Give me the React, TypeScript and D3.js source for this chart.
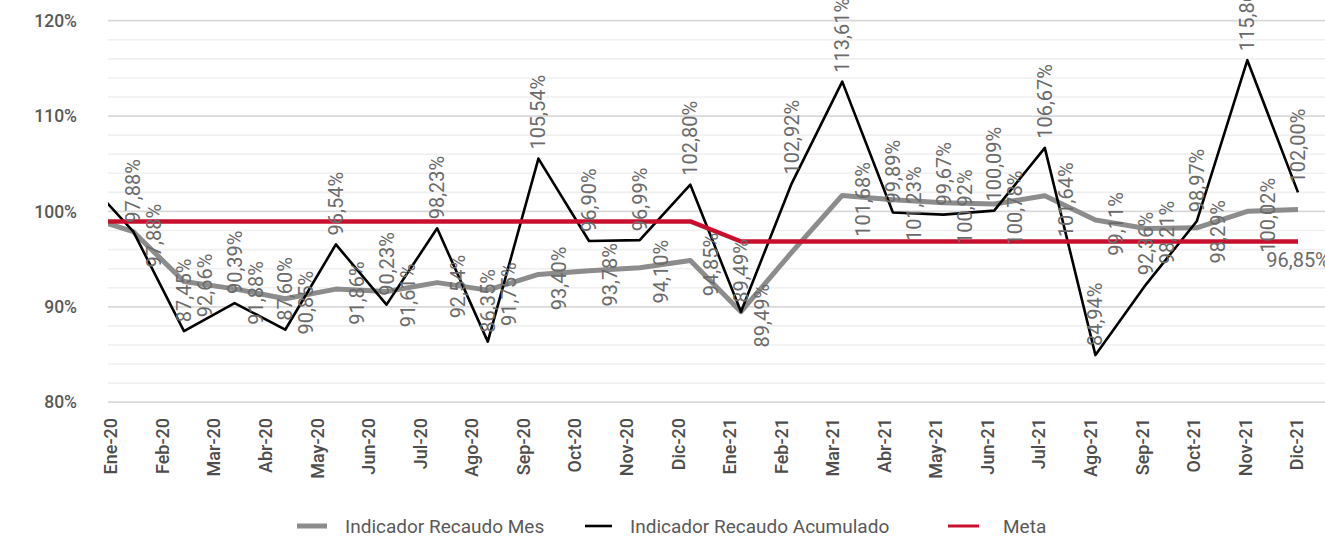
import React, { useEffect, useRef } from 'react';
import * as d3 from 'd3';

const months = [
    'Ene-20', 'Feb-20', 'Mar-20', 'Abr-20', 'May-20', 'Jun-20', 'Jul-20', 'Ago-20', 'Sep-20', 'Oct-20', 'Nov-20', 'Dic-20',
    'Ene-21', 'Feb-21', 'Mar-21', 'Abr-21', 'May-21', 'Jun-21', 'Jul-21', 'Ago-21', 'Sep-21', 'Oct-21', 'Nov-21', 'Dic-21'
];

// Dic-19: sits just left of the plot area, only its clipped segment is visible
const prevMes = 99.55;
const prevAcumulado = 103.7;
const prevMeta = 98.95;

const mes = [
    97.88, 92.66, 91.88, 90.85, 91.86, 91.61, 92.54, 91.75, 93.40, 93.78, 94.10, 94.85,
    89.49, 95.7, 101.68, 101.23, 100.92, 100.78, 101.64, 99.11, 98.21, 98.29, 100.02, 100.2
];
const acumulado = [
    97.88, 87.45, 90.39, 87.60, 96.54, 90.23, 98.23, 86.35, 105.54, 96.90, 96.99, 102.80,
    89.49, 102.92, 113.61, 99.89, 99.67, 100.09, 106.67, 84.94, 92.36, 98.97, 115.86, 102.00
];
const meta = [
    98.95, 98.95, 98.95, 98.95, 98.95, 98.95, 98.95, 98.95, 98.95, 98.95, 98.95, 98.95,
    96.85, 96.85, 96.85, 96.85, 96.85, 96.85, 96.85, 96.85, 96.85, 96.85, 96.85, 96.85
];
// months where the "Mes" series shows no data label
const mesSinEtiqueta = ['Feb-21', 'Dic-21'];

const yTicks = [80, 90, 100, 110, 120];

const App = () => {
    const svgRef = useRef<SVGSVGElement>(null);

    useEffect(() => {
        const svg = d3.select(svgRef.current);
        const height = 536;
        svg.selectAll('*').remove();

        const plot = { left: 108, right: 1325, top: 20.7, bottom: 402.2 };
        const font = 'Roboto, "DejaVu Sans", sans-serif';
        const textColor = '#595959';
        const labelColor = '#6b6b6b';

        const locale = d3.formatLocale({ decimal: ',', thousands: '.', grouping: [3], currency: ['$', ''] });
        const pct = (v: number) => locale.format('.2f')(v) + '%';

        const y = d3.scaleLinear().domain([80, 120]).range([plot.bottom, plot.top]);

        // lines: last point sits at 1298, first half step clipped at plot left
        const xLine = d3.scaleLinear().domain([-0.5, 23]).range([plot.left, 1298]);
        // category labels are spaced slightly differently
        const xLabel = d3.scalePoint().domain(months).range([111, 1297]);

        // grid (minor every 2%, major every 10%)
        const grid = svg.append('g');
        d3.range(80, 120.01, 2).forEach(v => {
            const major = Math.round(v) % 10 === 0;
            grid.append('line')
                .attr('x1', plot.left)
                .attr('x2', plot.right)
                .attr('y1', y(v))
                .attr('y2', y(v))
                .attr('stroke', major ? '#d9d9d9' : '#f0f0f0')
                .attr('stroke-width', major ? 1.8 : 1.6);
        });

        // y axis labels
        svg.append('g')
            .selectAll('text')
            .data(yTicks)
            .join('text')
            .attr('x', 77)
            .attr('y', d => y(d))
            .attr('dy', '0.35em')
            .attr('text-anchor', 'end')
            .attr('font-family', font)
            .attr('font-size', 17.5)
            .attr('font-weight', 500)
            .attr('fill', textColor)
            .text(d => d + '%');

        // x axis labels
        svg.append('g')
            .selectAll('text')
            .data(months)
            .join('text')
            .attr('transform', d => `translate(${xLabel(d)}, 418) rotate(-90)`)
            .attr('dy', '0.35em')
            .attr('text-anchor', 'end')
            .attr('font-family', font)
            .attr('font-size', 18)
            .attr('font-weight', 500)
            .attr('fill', '#4d4d4d')
            .text(d => d);

        svg.append('defs').append('clipPath')
            .attr('id', 'plot-clip')
            .append('rect')
            .attr('x', plot.left)
            .attr('y', 0)
            .attr('width', plot.right - plot.left)
            .attr('height', height);

        const withPrev = (prev: number, vals: number[]) =>
            [{ i: -1, v: prev }, ...vals.map((v, i) => ({ i, v }))];

        const line = d3.line<{ i: number; v: number }>()
            .x(d => xLine(d.i))
            .y(d => y(d.v));

        const lines = svg.append('g').attr('clip-path', 'url(#plot-clip)');
        const series = [
            { data: withPrev(prevMes, mes), color: '#8c8c8c', width: 5 },
            { data: withPrev(prevAcumulado, acumulado), color: '#000000', width: 2.6 },
            { data: withPrev(prevMeta, meta), color: '#c8102e', width: 4.5 }
        ];
        series.forEach(s => {
            lines.append('path')
                .datum(s.data)
                .attr('fill', 'none')
                .attr('stroke', s.color)
                .attr('stroke-width', s.width)
                .attr('stroke-linejoin', 'round')
                .attr('d', line);
        });

        // data labels
        const labels = svg.append('g')
            .attr('font-family', font)
            .attr('font-size', 20)
            .attr('fill', labelColor);

        acumulado.forEach((v, i) => {
            labels.append('text')
                .attr('transform', `translate(${xLine(i)}, ${y(v) - 9}) rotate(-90)`)
                .attr('dy', '0.35em')
                .attr('text-anchor', 'start')
                .text(pct(v));
        });

        mes.forEach((v, i) => {
            if (mesSinEtiqueta.includes(months[i])) return;
            labels.append('text')
                .attr('transform', `translate(${xLine(i) + 21}, ${y(v) + 4}) rotate(-90)`)
                .attr('dy', '0.35em')
                .attr('text-anchor', 'middle')
                .text(pct(v));
        });

        const last = meta.length - 1;
        labels.append('text')
            .attr('x', xLine(last))
            .attr('y', y(meta[last]) + 26)
            .attr('text-anchor', 'middle')
            .text(pct(meta[last]));

        // legend
        const legendItems = [
            { label: 'Indicador Recaudo Mes', color: '#8c8c8c', width: 5, x1: 297, x2: 327, tx: 345 },
            { label: 'Indicador Recaudo Acumulado', color: '#000000', width: 2.6, x1: 585, x2: 612, tx: 630 },
            { label: 'Meta', color: '#c8102e', width: 3, x1: 948, x2: 979, tx: 1003 }
        ];
        const legend = svg.append('g');
        legendItems.forEach(item => {
            legend.append('line')
                .attr('x1', item.x1)
                .attr('x2', item.x2)
                .attr('y1', 526)
                .attr('y2', 526)
                .attr('stroke', item.color)
                .attr('stroke-width', item.width);
            legend.append('text')
                .attr('x', item.tx)
                .attr('y', 526)
                .attr('dy', '0.35em')
                .attr('font-family', font)
                .attr('font-size', 19)
                .attr('fill', textColor)
                .text(item.label);
        });
    }, []);

    return (
        <svg
            ref={svgRef}
            width={1325}
            height={536}
            style={{ position: 'absolute', left: 0, top: 0, background: '#ffffff' }}
        />
    );
};

export default App;
